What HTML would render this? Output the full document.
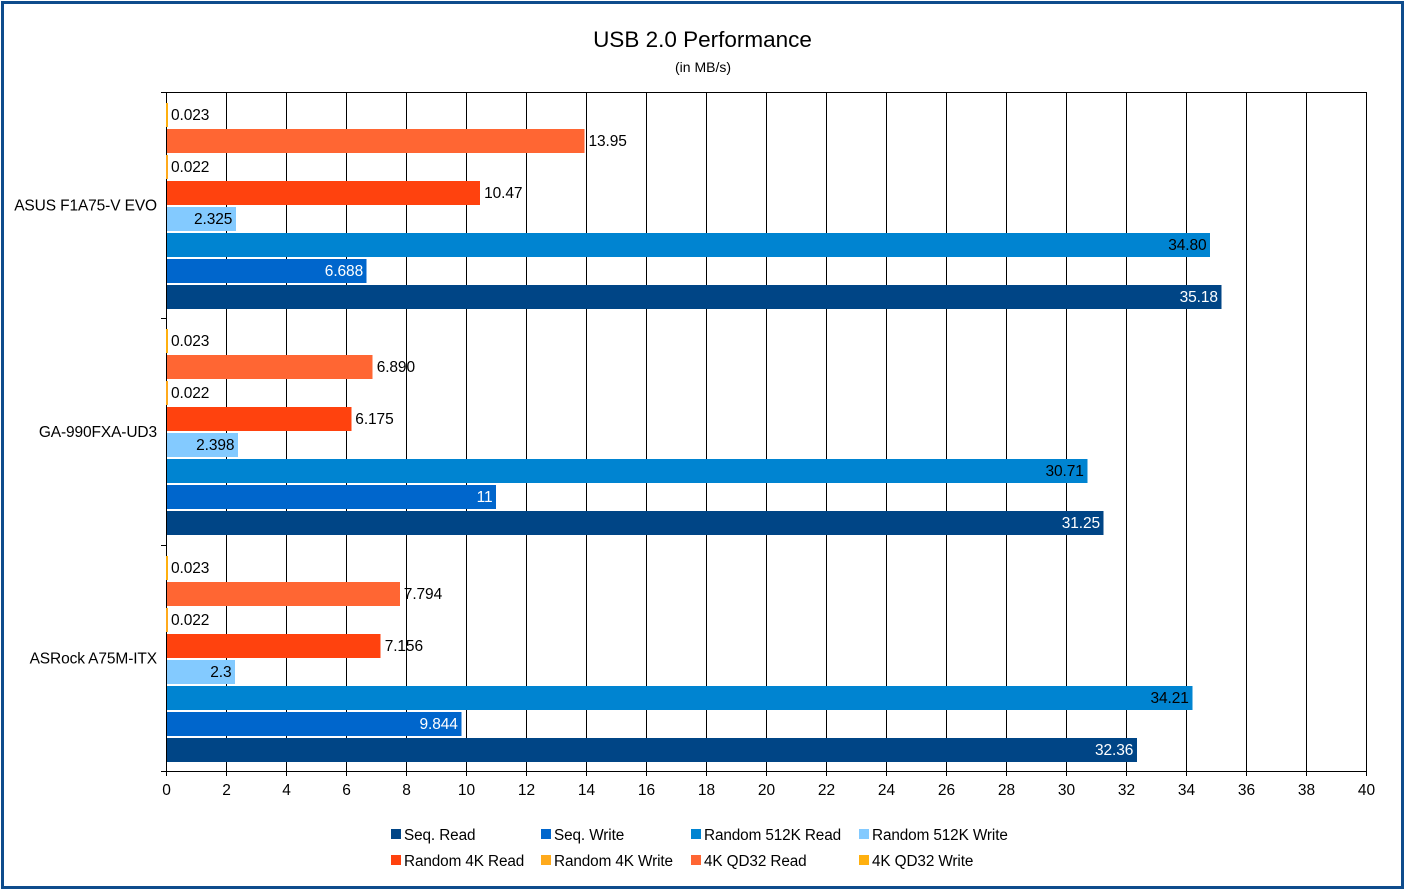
<!DOCTYPE html>
<html>
<head>
<meta charset="utf-8">
<style>
  html,body{margin:0;padding:0;background:#fff;}
  body{width:1405px;height:890px;overflow:hidden;position:relative;font-family:"Liberation Sans",Arial,sans-serif;}
  .frame{position:absolute;left:1px;top:1px;width:1403px;height:888px;box-sizing:border-box;border:3px solid #0e4c8c;}
  svg{position:absolute;left:0;top:0;}
  text{font-family:"Liberation Sans",Arial,sans-serif;}
</style>
</head>
<body>
<svg width="1405" height="890" viewBox="0 0 1405 890" xmlns="http://www.w3.org/2000/svg">
  <rect x="0" y="0" width="1405" height="890" fill="#fff"/>
  <!-- title -->
  <text x="702.5" y="47" font-size="22.5" text-anchor="middle" fill="#000">USB 2.0 Performance</text>
  <text x="703" y="72" font-size="14" text-anchor="middle" fill="#000">(in MB/s)</text>

  <g id="grid" stroke="#000" stroke-width="1" shape-rendering="crispEdges"></g>
  <g id="bars" shape-rendering="crispEdges"></g>
  <g id="axes" stroke="#000" stroke-width="1" shape-rendering="crispEdges"></g>
  <g id="thin" shape-rendering="crispEdges"></g>
  <g id="labels" font-size="15.5" letter-spacing="-0.1"></g>
  <g id="ticklabels" font-size="15.5" text-anchor="middle" fill="#000"></g>
  <g id="cats" font-size="15.5" text-anchor="end" fill="#000" letter-spacing="-0.12"></g>
  <g id="legend" font-size="15.3" fill="#000" letter-spacing="-0.1"></g>
</svg>
<div class="frame"></div>
<script>
(function(){
  var NS="http://www.w3.org/2000/svg";
  function el(tag, attrs, parent, txt){
    var e=document.createElementNS(NS,tag);
    for(var k in attrs) e.setAttribute(k, attrs[k]);
    if(txt!==undefined) e.textContent=txt;
    parent.appendChild(e); return e;
  }
  var x0=166, pxu=30, top=92, bot=771;
  var grid=document.getElementById('grid');
  for(var k=1;k<=20;k++){
    var x=x0+60*k+0.5;
    el('line',{x1:x,y1:top,x2:x,y2:bot+5},grid);
  }
  var axes=document.getElementById('axes');
  el('line',{x1:x0+0.5,y1:top,x2:x0+0.5,y2:bot+5},axes);
  el('line',{x1:161,y1:bot+0.5,x2:x0+1200+1,y2:bot+0.5},axes);
  el('line',{x1:161,y1:top+0.5,x2:x0+1200+1,y2:top+0.5},axes);
  var catH=(bot-top)/3;
  for(var c=1;c<3;c++){
    var y=Math.round(top+c*catH)+0.5;
    el('line',{x1:161,y1:y,x2:x0,y2:y},axes);
  }
  var tl=document.getElementById('ticklabels');
  for(var k=0;k<=20;k++){
    el('text',{x:x0+60*k+0.5,y:795},tl,String(2*k));
  }
  var cats=["ASUS F1A75-V EVO","GA-990FXA-UD3","ASRock A75M-ITX"];
  var data=[
    [[0.023,"0.023"],[13.95,"13.95"],[0.022,"0.022"],[10.47,"10.47"],[2.325,"2.325"],[34.80,"34.80"],[6.688,"6.688"],[35.18,"35.18"]],
    [[0.023,"0.023"],[6.890,"6.890"],[0.022,"0.022"],[6.175,"6.175"],[2.398,"2.398"],[30.71,"30.71"],[11,"11"],[31.25,"31.25"]],
    [[0.023,"0.023"],[7.794,"7.794"],[0.022,"0.022"],[7.156,"7.156"],[2.3,"2.3"],[34.21,"34.21"],[9.844,"9.844"],[32.36,"32.36"]]
  ];
  var colors=["#ffb00f","#ff6633","#ffaa1c","#ff420e","#83caff","#0084d1","#0066cc","#004586"];
  var bars=document.getElementById('bars');
  var thin=document.getElementById('thin');
  var labels=document.getElementById('labels');
  var catg=document.getElementById('cats');
  for(var c=0;c<3;c++){
    var ct=top+c*catH;
    el('text',{x:157,y:(ct+catH/2+5.5).toFixed(1)},catg,cats[c]);
    for(var i=0;i<8;i++){
      var by=Math.round(ct+11+i*26);
      var v=data[c][i][0];
      var w=v*pxu;
      if(w<3){
        el('rect',{x:x0,y:by,width:2,height:24,fill:colors[i]},thin);
      } else {
        el('rect',{x:x0,y:by,width:w.toFixed(2),height:24,fill:colors[i]},bars);
      }
      var cy=by+12+4.8;
      var end=x0+v*pxu;
      if(i<4){
        el('text',{x:(Math.max(end,x0+1)+4).toFixed(1),y:cy,fill:"#000"},labels,data[c][i][1]);
      }else{
        el('text',{x:(end-3.5).toFixed(1),y:cy,fill:(i>=6?"#fff":"#000"),"text-anchor":"end"},labels,data[c][i][1]);
      }
    }
  }
  var leg=document.getElementById('legend');
  var items=[
    [391,829,"#004586","Seq. Read"],
    [541,829,"#0066cc","Seq. Write"],
    [691,829,"#0084d1","Random 512K Read"],
    [859,829,"#83caff","Random 512K Write"],
    [391,855,"#ff420e","Random 4K Read"],
    [541,855,"#ffaa1c","Random 4K Write"],
    [691,855,"#ff6633","4K QD32 Read"],
    [859,855,"#ffb00f","4K QD32 Write"]
  ];
  items.forEach(function(it){
    el('rect',{x:it[0],y:it[1],width:10,height:10,fill:it[2]},leg);
    el('text',{x:it[0]+13,y:it[1]+11},leg,it[3]);
  });
})();
</script>
</body>
</html>
